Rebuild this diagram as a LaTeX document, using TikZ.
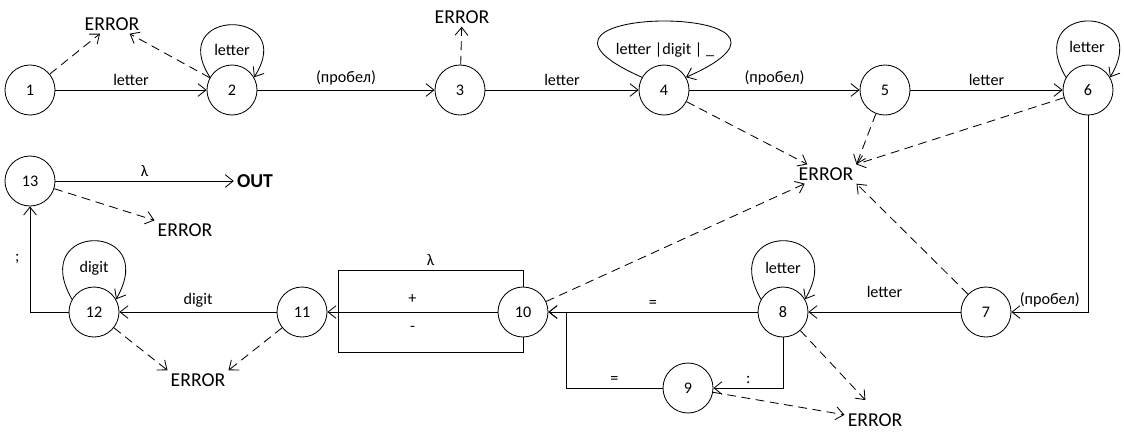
\documentclass[tikz,border=0pt]{standalone}
\usepackage{fontspec}
\setmainfont{Carlito}
\usetikzlibrary{arrows.meta}

\begin{document}
\begin{tikzpicture}[
    x=0.025cm, y=-0.025cm,
    line width=0.6pt,
    >={Straight Barb[length=2mm,width=3.2mm]},
    state/.style={draw, circle, minimum size=1.25cm, inner sep=0pt, font=\fontsize{11.5}{13}\selectfont},
    err/.style={font=\fontsize{14}{16}\selectfont, inner sep=2pt},
    lbl/.style={font=\fontsize{11.5}{13}\selectfont, inner sep=3pt},
    fail/.style={->, dash pattern=on 2.2mm off 1.4mm}
]
    \useasboundingbox (0,0) rectangle (1124,443);

    % --- 1. states ---
    \node[state] (s1)  at (30,90)   {1};
    \node[state] (s2)  at (232,90)  {2};
    \node[state] (s3)  at (460,90)  {3};
    \node[state] (s4)  at (664,90)  {4};
    \node[state] (s5)  at (885,90)  {5};
    \node[state] (s6)  at (1088,90) {6};
    \node[state] (s7)  at (986,312) {7};
    \node[state] (s8)  at (783,312) {8};
    \node[state] (s9)  at (688,388) {9};
    \node[state] (s10) at (523,312) {10};
    \node[state] (s11) at (302,312) {11};
    \node[state] (s12) at (94,312)  {12};
    \node[state] (s13) at (30,181)  {13};

    % --- 2. ERROR / OUT ---
    \node[err] (e1)  at (112,24)  {ERROR};
    \node[err] (e3)  at (462,17)  {ERROR};
    \node[err] (ec)  at (826,174) {ERROR};
    \node[err] (e13) at (185,230) {ERROR};
    \node[err] (e12) at (198,380) {ERROR};
    \node[err] (e9)  at (875,420) {ERROR};
    \node[err, font=\fontsize{14}{16}\selectfont\bfseries] (out) at (255,181) {OUT};

    % --- 3. transitions ---
    \draw[->] (s1) -- (s2) node[lbl, midway, above] {letter};
    \draw[->] (s2) -- (s3) node[lbl, midway, above] {(пробел)};
    \draw[->] (s3) -- (s4) node[lbl, midway, above] {letter};
    \draw[->] (s4) -- (s5) node[lbl, midway, above] {(пробел)};
    \draw[->] (s5) -- (s6) node[lbl, midway, above] {letter};
    \draw[->] (s6) |- (s7) node[lbl, pos=0.75, above] {(пробел)};
    \draw[->] (s7) -- (s8) node[lbl, midway, above, yshift=2.5mm] {letter};
    \draw[->] (s8) -- (s10) node[lbl, midway, above] {=};
    \draw[->] (s8) |- (s9) node[lbl, pos=0.75, above] {:};
    \draw[->] (s9) -- ++(-122,0) node[lbl, midway, above] {=} |- (s10);
    \draw[->] (s10) -- (s11) node[lbl, midway, above, yshift=1mm] {+}
        node[lbl, midway, below, yshift=-2.5mm] {-};
    \draw (s10.north) -- ++(0,-16) -- ++(-185,0) node[lbl, midway, above] {λ}
        -- ++(0,82) -| (s10.south);
    \draw[->] (s11) -- (s12) node[lbl, midway, above] {digit};
    \draw[->] (s12) -| (s13) node[lbl, pos=0.75, left, xshift=-1.5mm] {;};
    \draw[->] (s13) -- (out) node[lbl, midway, above] {λ};

    % --- 4. self loops ---
    \draw[->] (s2.150) .. controls +(-45,-70) and +(45,-70) .. (s2.30);
    \node[lbl] (l2) at (232,50) {letter};
    \draw[->] (s4.150) .. controls +(-170,-75) and +(170,-75) .. (s4.30);
    \node[lbl] (l4) at (665,50) {letter |digit | \_};
    \draw[->] (s6.150) .. controls +(-45,-75) and +(45,-75) .. (s6.30);
    \node[lbl] (l6) at (1087,47) {letter};
    \draw[->] (s8.150) .. controls +(-45,-78) and +(45,-78) .. (s8.30);
    \node[lbl] (l8) at (783,268) {letter};
    \draw[->] (s12.150) .. controls +(-45,-78) and +(45,-78) .. (s12.30);
    \node[lbl] (l12) at (94,268) {digit};

    % --- 5. errors (dashed) ---
    \draw[fail] (s1) -- (e1);
    \draw[fail] (s2) -- (e1);
    \draw[fail] (s3) -- (e3);
    \draw[fail] (s4) -- (ec);
    \draw[fail] (s5) -- (ec.north east);
    \draw[fail] (s6) -- (ec);
    \draw[fail] (s7) -- (ec.south east);
    \draw[fail] (s10) -- (ec);
    \draw[fail] (s13) -- (e13);
    \draw[fail] (s12) -- (e12.north west);
    \draw[fail] (s11) -- (e12.north east);
    \draw[fail, shorten >=3.5mm] (s8) -- (e9.north);
    \draw[fail] (s9) -- (e9);

\end{tikzpicture}
\end{document}
